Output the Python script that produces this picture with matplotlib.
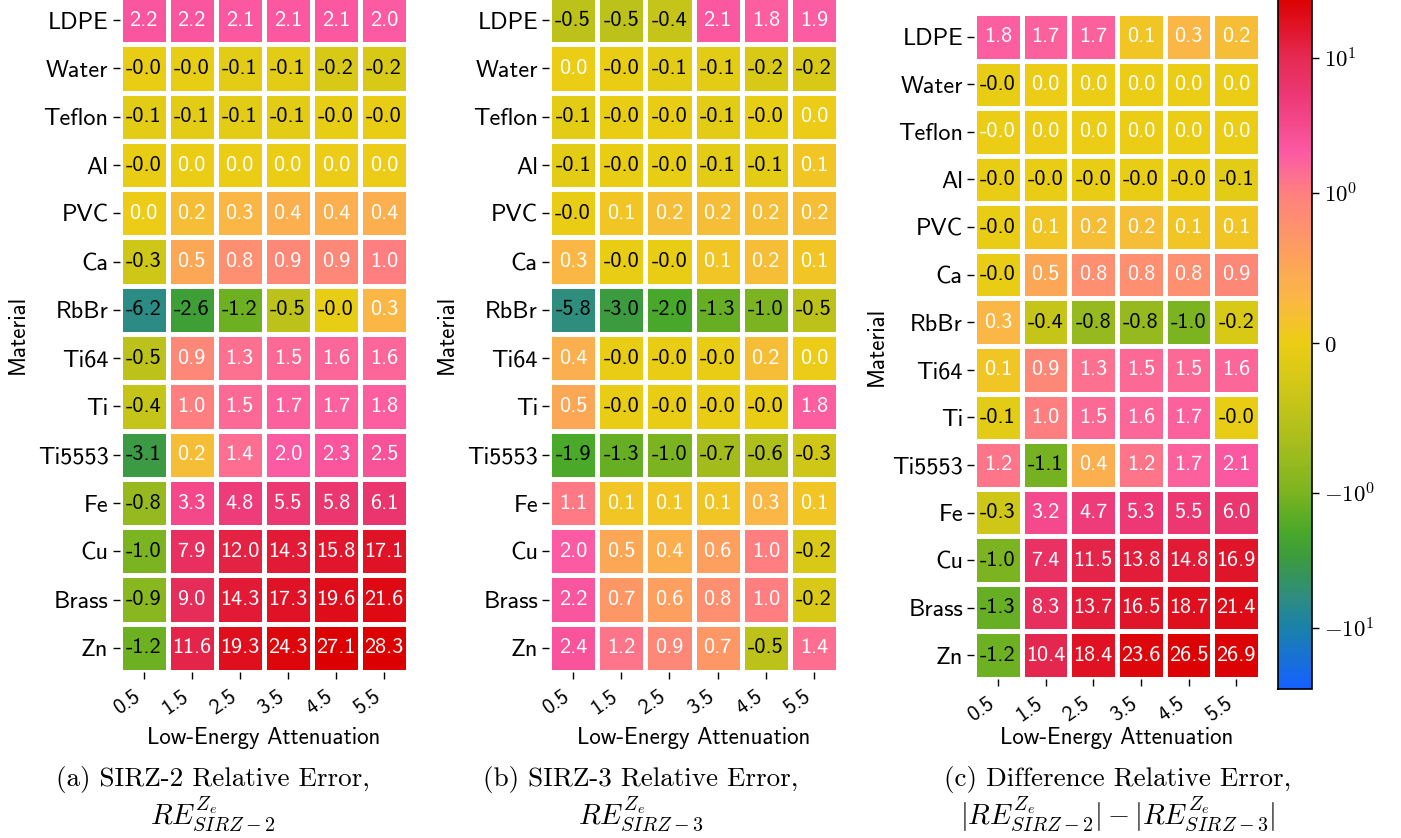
import numpy as np
import matplotlib
matplotlib.use('Agg')
import matplotlib.pyplot as plt
from matplotlib.colors import LinearSegmentedColormap, SymLogNorm

plt.rcParams['mathtext.fontset'] = 'cm'
plt.rcParams['axes.unicode_minus'] = False

# Data
materials = ['LDPE', 'Water', 'Teflon', 'Al', 'PVC', 'Ca', 'RbBr', 'Ti64', 'Ti',
             'Ti5553', 'Fe', 'Cu', 'Brass', 'Zn']
attenuation = ['0.5', '1.5', '2.5', '3.5', '4.5', '5.5']

sirz2_err = [
    [2.2, 2.2, 2.1, 2.1, 2.1, 2.0],
    [-0.02, -0.04, -0.1, -0.1, -0.2, -0.2],
    [-0.1, -0.1, -0.1, -0.1, -0.04, -0.03],
    [-0.02, 0.01, 0.01, 0.01, 0.02, 0.02],
    [0.02, 0.2, 0.3, 0.4, 0.4, 0.4],
    [-0.3, 0.5, 0.8, 0.9, 0.9, 1.0],
    [-6.2, -2.6, -1.2, -0.5, -0.04, 0.3],
    [-0.5, 0.9, 1.3, 1.5, 1.6, 1.6],
    [-0.4, 1.0, 1.5, 1.7, 1.7, 1.8],
    [-3.1, 0.2, 1.4, 2.0, 2.3, 2.5],
    [-0.8, 3.3, 4.8, 5.5, 5.8, 6.1],
    [-1.0, 7.9, 12.0, 14.3, 15.8, 17.1],
    [-0.9, 9.0, 14.3, 17.3, 19.6, 21.6],
    [-1.2, 11.6, 19.3, 24.3, 27.1, 28.3],
]

sirz3_err = [
    [-0.5, -0.5, -0.4, 2.1, 1.8, 1.9],
    [0.01, -0.02, -0.1, -0.1, -0.2, -0.2],
    [-0.1, -0.03, -0.03, -0.1, -0.04, 0.02],
    [-0.1, -0.03, -0.04, -0.1, -0.1, 0.1],
    [-0.02, 0.1, 0.2, 0.2, 0.2, 0.2],
    [0.3, -0.03, -0.02, 0.1, 0.2, 0.1],
    [-5.8, -3.0, -2.0, -1.3, -1.0, -0.5],
    [0.4, -0.02, -0.02, -0.03, 0.2, 0.02],
    [0.5, -0.02, -0.02, -0.03, -0.03, 1.8],
    [-1.9, -1.3, -1.0, -0.7, -0.6, -0.3],
    [1.1, 0.1, 0.1, 0.1, 0.3, 0.1],
    [2.0, 0.5, 0.4, 0.6, 1.0, -0.2],
    [2.2, 0.7, 0.6, 0.8, 1.0, -0.2],
    [2.4, 1.2, 0.9, 0.7, -0.5, 1.4],
]

diff_err = [
    [1.8, 1.7, 1.7, 0.1, 0.3, 0.2],
    [-0.02, 0.02, 0.01, 0.01, 0.01, 0.01],
    [-0.0, 0.02, 0.01, 0.01, 0.01, 0.01],
    [-0.02, -0.02, -0.02, -0.02, -0.02, -0.1],
    [-0.02, 0.1, 0.2, 0.2, 0.1, 0.1],
    [-0.03, 0.5, 0.8, 0.8, 0.8, 0.9],
    [0.3, -0.4, -0.8, -0.8, -1.0, -0.2],
    [0.1, 0.9, 1.3, 1.5, 1.5, 1.6],
    [-0.1, 1.0, 1.5, 1.6, 1.7, -0.03],
    [1.2, -1.1, 0.4, 1.2, 1.7, 2.1],
    [-0.3, 3.2, 4.7, 5.3, 5.5, 6.0],
    [-1.0, 7.4, 11.5, 13.8, 14.8, 16.9],
    [-1.3, 8.3, 13.7, 16.5, 18.7, 21.4],
    [-1.2, 10.4, 18.4, 23.6, 26.5, 26.9],
]

captions = [
    ('(a) SIRZ-2 Relative Error,', r'$RE^{Z_e}_{SIRZ-2}$'),
    ('(b) SIRZ-3 Relative Error,', r'$RE^{Z_e}_{SIRZ-3}$'),
    ('(c) Difference Relative Error,',
     r'$|RE^{Z_e}_{SIRZ-2}| - |RE^{Z_e}_{SIRZ-3}|$'),
]

# Colour scale (symmetric log)
vlim = 28.3
norm = SymLogNorm(linthresh=1.0, linscale=1.0, vmin=-vlim, vmax=vlim, base=10)
anchors = [(-vlim, '#1560ff'), (-10, '#1a82a8'), (-6, '#2f8c80'), (-3, '#3c9c3c'),
           (-2, '#48a82a'), (-1, '#7cb420'), (-0.5, '#bcc21a'), (0, '#ecce14'),
           (0.3, '#fbb745'), (1, '#ff8080'), (2, '#fc5aa4'), (5, '#ee3a78'),
           (10, '#e52a55'), (vlim, '#dc0000')]
cmap = LinearSegmentedColormap.from_list(
    'relerr', [(float(norm(v)), c) for v, c in anchors])

W, H = 1401, 838
fig = plt.figure(figsize=(W / 100, H / 100), dpi=100)


def box(l, t, r, b):
    return [l / W, 1 - b / H, (r - l) / W, (b - t) / H]


def fig_text(x, y, s, **kw):
    fig.text(x / W, 1 - y / H, s, **kw)


panels = [sirz2_err, sirz3_err, diff_err]
axes_px = [(119.5, -4, 408, 672), (549, -4, 838, 672), (974, 13, 1260, 679)]
ylabel_x = [18, 447, 877]
caption_x = [213, 641, 1118]

for data, (l, t, r, b), yx, cx, cap in zip(panels, axes_px, ylabel_x, caption_x, captions):
    vals = np.array(data)
    ax = fig.add_axes(box(l, t, r, b))
    ax.pcolormesh(np.arange(7), np.arange(15), vals, cmap=cmap, norm=norm,
                  edgecolor='white', linewidth=2.2)
    ax.set_xlim(0, 6)
    ax.set_ylim(14, 0)
    for i in range(vals.shape[0]):
        for j in range(vals.shape[1]):
            v = vals[i, j]
            ax.text(j + 0.5, i + 0.5, f'{v:.1f}', ha='center', va='center',
                    fontsize=16, family='cmss10',
                    color='black' if v < 0 else 'white')
    for s in ax.spines.values():
        s.set_visible(False)
    ax.set_xticks(np.arange(6) + 0.5)
    ax.set_xticklabels(attenuation, rotation=35, ha='right', fontsize=15.5,
                       family='cmss10')
    ax.set_yticks(np.arange(14) + 0.5)
    ax.set_yticklabels(materials, fontsize=17.5, family='cmss10')
    ax.tick_params(axis='x', length=5, width=1, pad=6)
    ax.tick_params(axis='y', length=5, width=1, pad=3)

    fig_text(yx, (t + b) / 2, 'Material', rotation=90, ha='center', va='center',
             fontsize=16.5, family='cmss10')
    fig_text((l + r) / 2, 738, 'Low-Energy Attenuation', ha='center', va='center',
             fontsize=16.5, family='cmss10')
    fig_text(cx, 779, cap[0], ha='center', va='center', fontsize=19.5, family='cmr10')
    fig_text(cx, 814, cap[1], ha='center', va='center', fontsize=20.5)

# Colour bar
cax = fig.add_axes(box(1278, -3, 1312, 689))
sm = matplotlib.cm.ScalarMappable(norm=norm, cmap=cmap)
cbar = fig.colorbar(sm, cax=cax)
cbar.set_ticks([-10, -1, 0, 1, 10])
cbar.set_ticklabels([r'$-10^{1}$', r'$-10^{0}$', r'$0$', r'$10^{0}$', r'$10^{1}$'])
cbar.ax.tick_params(labelsize=16.5, length=5, width=1)
cbar.ax.minorticks_off()
cbar.outline.set_linewidth(1.2)

fig.savefig('out.png', dpi=100)
